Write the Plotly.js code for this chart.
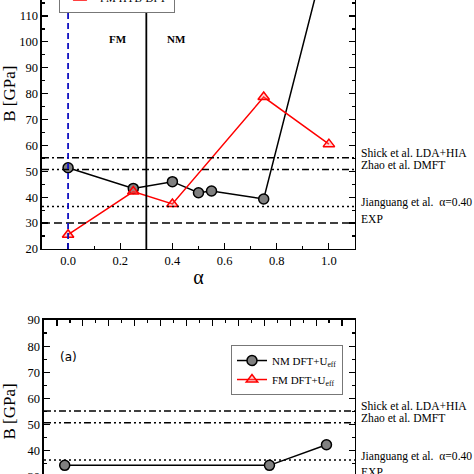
<!DOCTYPE html>
<html><head><meta charset="utf-8">
<script src="https://cdn.plot.ly/plotly-3.0.1.min.js"></script>
<style>
html,body{margin:0;padding:0;overflow:hidden;background:#fff;width:474px;height:474px}
#plot{position:absolute;left:0;top:-70px;width:474px;height:620px}
</style>
</head><body><div id="plot"></div>
<script>
// ---- data ----
const alphaNM = [0, 0.25, 0.4, 0.5, 0.55, 0.75, 1.0];
const nmHybB  = [51.4, 43.4, 46.0, 41.7, 42.4, 39.3, 138];
const alphaFM = [0, 0.25, 0.4, 0.75, 1.0];
const fmHybB  = [25.5, 42.2, 37.4, 78.7, 60.5];
const uNM     = [0.3, 8.2, 10.4];
const nmUB    = [34.4, 34.4, 42.3];
const uFM     = [null];   // points of this series lie below the visible part of the picture
const fmUB    = [null];
const refNames = ["Shick et al. LDA+HIA", "Zhao et al. DMFT", "Jianguang et al.&nbsp; α=0.40", "EXP"];
const refB     = [55.2, 50.7, 36.4, 30];
const boundaryAlpha = 0.3;
const hybAlpha = 0;
const regionLabels = ["FM", "NM"];
const regionAlpha = [0.19, 0.417];
const regionB = [101, 101];

// ---- styles ----
const dashStyles = ["7px,3px,2px,3px", "7px,3px,2px,3px,2px,3px", "2px,3px", "8px,4px"];
const SERIF = "Liberation Serif";

function nmStyle(){ return {mode:'lines+markers', line:{color:'black', width:1.5},
  marker:{symbol:'circle', size:10, color:'#808080', line:{color:'black', width:1.5}}}; }
function fmStyle(){ return {mode:'lines+markers', line:{color:'red', width:1.5},
  marker:{symbol:'triangle-up', size:10, color:'rgba(255,120,120,0.35)', line:{color:'red', width:1.5}}}; }

const traces = [
  Object.assign({x:alphaNM, y:nmHybB, name:'NM HYB-DFT', xaxis:'x', yaxis:'y', legend:'legend'}, nmStyle()),
  Object.assign({x:alphaFM, y:fmHybB, name:'FM HYB-DFT', xaxis:'x', yaxis:'y', legend:'legend'}, fmStyle()),
  Object.assign({x:uNM, y:nmUB, name:'NM DFT+U<sub>eff</sub>', xaxis:'x2', yaxis:'y2', legend:'legend2'}, nmStyle()),
  Object.assign({x:uFM, y:fmUB, name:'FM DFT+U<sub>eff</sub>', xaxis:'x2', yaxis:'y2', legend:'legend2'}, fmStyle())
];

const shapes = [];
const annotations = [];
['', '2'].forEach(function(s){
  refB.forEach(function(v, i){
    shapes.push({type:'line', xref:'x'+s+' domain', x0:0, x1:1, yref:'y'+s, y0:v, y1:v,
      line:{color:'black', width:1.5, dash:dashStyles[i]}});
    annotations.push({xref:'paper', x:0.757, xanchor:'left', yref:'y'+s, y:v, yshift:4,
      text:refNames[i], showarrow:false, font:{family:SERIF, size:11.6, color:'black'}});
  });
});
shapes.push({type:'line', xref:'x', x0:hybAlpha, x1:hybAlpha, yref:'y domain', y0:0, y1:1,
  line:{color:'#1010c0', width:1.8, dash:'6px,4px'}});
shapes.push({type:'line', xref:'x', x0:boundaryAlpha, x1:boundaryAlpha, yref:'y domain', y0:0, y1:1,
  line:{color:'black', width:1.8}});
regionLabels.forEach(function(t, i){
  annotations.push({xref:'x', yref:'y', x:regionAlpha[i], y:regionB[i], text:'<b>'+t+'</b>',
    showarrow:false, font:{family:SERIF, size:11, color:'black'}});
});
annotations.push({xref:'x2', yref:'y2', x:0.45, y:75.8, text:'(a)', showarrow:false,
  font:{family:'DejaVu Sans', size:12, color:'black'}});

const axCommon = {showline:true, linewidth:1.5, linecolor:'black', mirror:'ticks', ticks:'inside',
  ticklen:6, tickwidth:1.2, tickcolor:'black', showgrid:false, zeroline:false,
  tickfont:{family:SERIF, size:12.5, color:'black'}};

const layout = {
  width:474, height:620, margin:{l:0, r:0, t:0, b:0, autoexpand:false},
  paper_bgcolor:'white', plot_bgcolor:'white', font:{family:SERIF, color:'black'},
  xaxis:Object.assign({}, axCommon, {domain:[0.0886, 0.7489], range:[-0.1, 1.1], anchor:'y',
    tick0:0, dtick:0.2, tickformat:'.1f', minor:{dtick:0.1, ticks:'inside', ticklen:3, tickcolor:'black'},
    title:{text:'α', font:{family:SERIF, size:20}, standoff:2}}),
  yaxis:Object.assign({}, axCommon, {domain:[0.4855, 0.9866], range:[20, 140], anchor:'x',
    dtick:10, minor:{dtick:5, ticks:'inside', ticklen:3, tickcolor:'black'},
    title:{text:'B [GPa]', font:{family:SERIF, size:17}}}),
  xaxis2:Object.assign({}, axCommon, {domain:[0.0928, 0.7489], range:[-0.5, 11.5], anchor:'y2',
    dtick:1, minor:{dtick:0.5, ticks:'inside', ticklen:3, tickcolor:'black'}}),
  yaxis2:Object.assign({}, axCommon, {domain:[0.0758, 0.371], range:[20, 90], anchor:'x2',
    dtick:10, minor:{dtick:5, ticks:'inside', ticklen:3, tickcolor:'black'},
    title:{text:'B [GPa]', font:{family:SERIF, size:17}}}),
  legend:{x:0.2468, xanchor:'center', y:0.8661, yanchor:'bottom', bgcolor:'white',
    bordercolor:'#777', borderwidth:1, font:{family:SERIF, size:11, color:'black'}, tracegroupgap:0},
  legend2:{x:0.7236, xanchor:'right', y:0.3306, yanchor:'top', bgcolor:'white',
    bordercolor:'#777', borderwidth:1, font:{family:SERIF, size:11, color:'black'}, tracegroupgap:0},
  shapes:shapes, annotations:annotations, showlegend:true
};

Plotly.newPlot('plot', traces, layout, {displayModeBar:false, staticPlot:true});
</script>
</body></html>
